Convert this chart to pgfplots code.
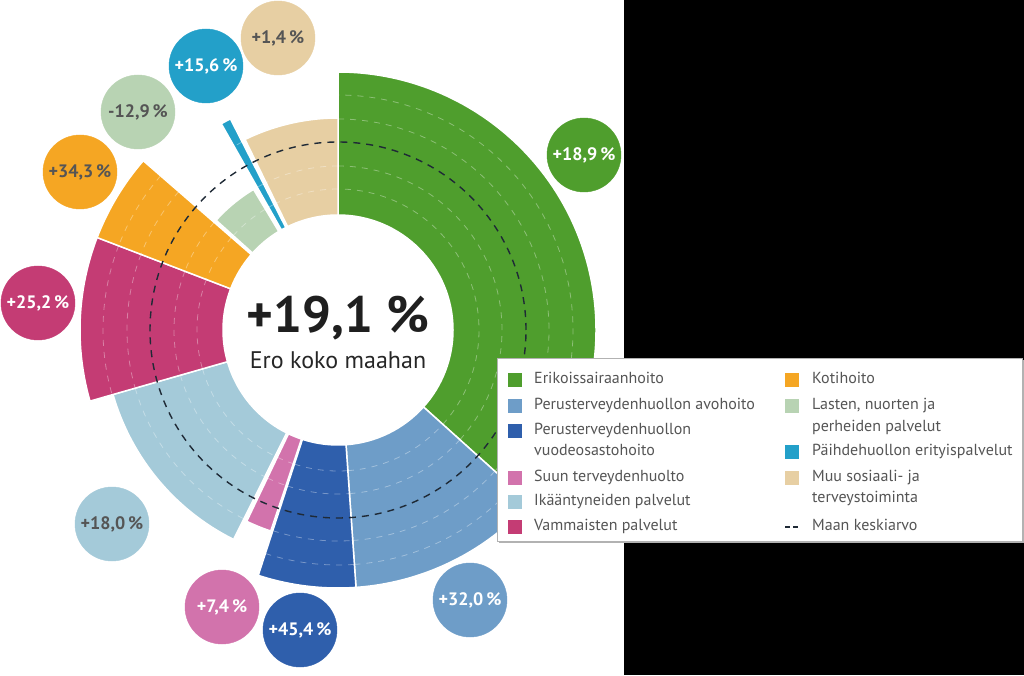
\documentclass[border=0pt]{standalone}
\usepackage{fontspec}
\setmainfont{PT Sans}
\usepackage{pgfplots}
\pgfplotsset{compat=1.18}

\definecolor{cErik}{HTML}{4F9E2D}
\definecolor{cAvo}{HTML}{6E9DC8}
\definecolor{cVuo}{HTML}{2F5FAC}
\definecolor{cSuu}{HTML}{D273AC}
\definecolor{cIka}{HTML}{A4CAD9}
\definecolor{cVam}{HTML}{C43C74}
\definecolor{cKot}{HTML}{F5A623}
\definecolor{cLas}{HTML}{B8D3B3}
\definecolor{cPai}{HTML}{23A0C9}
\definecolor{cMuu}{HTML}{E7CFA3}
\definecolor{cTxt}{HTML}{555555}
\definecolor{cDash}{HTML}{1F2A36}

% inner radius of the ring
\def\rin{115}
% annular sector, drawn at the data point; angles and radius from the table
\pgfdeclareplotmark{sector}{%
  \pgfpathmoveto{\pgfpointpolar{\aA}{\rin pt}}%
  \pgfpathlineto{\pgfpointpolar{\aA}{\rout pt}}%
  \pgfpatharc{\aA}{\aB}{\rout pt}%
  \pgfpathlineto{\pgfpointpolar{\aB}{\rin pt}}%
  \pgfpatharc{\aB}{\aA}{\rin pt}%
  \pgfpathclose
  \pgfusepathqfillstroke
  \begin{pgfscope}
    \pgfsetstrokecolor{white}\pgfsetstrokeopacity{0.35}%
    \pgfsetlinewidth{0.8pt}\pgfsetdash{{6pt}{6pt}}{0pt}%
    \foreach \g in {141,164,211,235}{%
      \ifdim\g pt<\dimexpr\rout pt-4pt\relax
        \pgfpathmoveto{\pgfpointpolar{\aA}{\g pt}}%
        \pgfpatharc{\aA}{\aB}{\g pt}%
        \pgfusepathqstroke
      \fi}%
  \end{pgfscope}
}

\pgfplotsset{
  sector/.style={only marks, mark=sector,
    visualization depends on=value \thisrow{a0}\as\aA,
    visualization depends on=value \thisrow{a1}\as\aB,
    visualization depends on=value \thisrow{r}\as\rout,
    mark options={draw=white, line width=1.5pt, solid, fill=#1}},
  bubble/.style n args={3}{only marks, mark=*, mark size=37pt,
    mark options={draw=#1, fill=#1},
    nodes near coords={#3},
    every node near coord/.append style={anchor=center, text=#2,
      font=\fontsize{18}{20}\selectfont\bfseries}},
}

\newcommand\legsq[3]{\fill[#3] (#1-7,#2-7) rectangle (#1+7,#2+7);}
\newcommand\legtxt[3]{\node[anchor=west, text=cTxt, font=\fontsize{16}{18}\selectfont,
  text height=1.6ex, text depth=0.3ex, inner sep=0pt] at (#1,#2) {#3};}

\begin{document}
\begin{tikzpicture}
\begin{axis}[
  x=1pt, y=1pt, xmin=0, xmax=1024, ymin=0, ymax=675,
  y dir=reverse, hide axis, clip=false, set layers,
]
\begin{pgfonlayer}{axis background}
\fill[white] (0,0) rectangle (1024,675);
\fill[black] (624,0) rectangle (1024,675);
\end{pgfonlayer}

% sectors: centre x y, start angle, end angle, outer radius
\addplot[sector=cErik] table[row sep=\\] {x y a0 a1 r\\ 338 330 -42 90 258\\};
\addplot[sector=cAvo] table[row sep=\\] {x y a0 a1 r\\ 338 330 -86 -42 258\\};
\addplot[sector=cVuo] table[row sep=\\] {x y a0 a1 r\\ 338 330 -108 -86 258\\};
\addplot[sector=cSuu] table[row sep=\\] {x y a0 a1 r\\ 338 330 -115.5 -108.5 212\\};
\addplot[sector=cIka] table[row sep=\\] {x y a0 a1 r\\ 338 330 -164 -116.5 234\\};
\addplot[sector=cVam] table[row sep=\\] {x y a0 a1 r\\ 338 330 159 196 258\\};
\addplot[sector=cKot] table[row sep=\\] {x y a0 a1 r\\ 338 330 139 159 258\\};
\addplot[sector=cLas] table[row sep=\\] {x y a0 a1 r\\ 338 330 121 138 164\\};
\addplot[sector=cPai] table[row sep=\\] {x y a0 a1 r\\ 338 330 117 119.5 237\\};
\addplot[sector=cMuu] table[row sep=\\] {x y a0 a1 r\\ 338 330 90 116 212\\};

% national average
\addplot[only marks, mark=o, mark size=188pt,
  mark options={draw=cDash, line width=1.4pt, dash pattern=on 7pt off 6pt}]
  table[row sep=\\] {x y\\ 338 330\\};

\node[text=black!88, font=\fontsize{51}{58}\selectfont\bfseries] at (338,318) {+19,1 \%};
\node[text=black!85, font=\fontsize{24}{28}\selectfont] at (338,360) {Ero koko maahan};

% value bubbles
\addplot[bubble={cErik}{white}{+18,9\,\%}] coordinates {(584,155)};
\addplot[bubble={cAvo}{white}{+32,0\,\%}] coordinates {(470,600)};
\addplot[bubble={cVuo}{white}{+45,4\,\%}] coordinates {(300,630)};
\addplot[bubble={cSuu}{white}{+7,4\,\%}] coordinates {(222,607)};
\addplot[bubble={cIka}{cTxt}{+18,0\,\%}] coordinates {(112,524)};
\addplot[bubble={cVam}{white}{+25,2\,\%}] coordinates {(38,303)};
\addplot[bubble={cKot}{cTxt}{+34,3\,\%}] coordinates {(80,172)};
\addplot[bubble={cLas}{cTxt}{-12,9\,\%}] coordinates {(138,112)};
\addplot[bubble={cPai}{white}{+15,6\,\%}] coordinates {(206,66)};
\addplot[bubble={cMuu}{cTxt}{+1,4\,\%}] coordinates {(278,38)};

\begin{pgfonlayer}{axis foreground}
\fill[black!30] (499,360) rectangle (1024,543);
\draw[black!30, fill=white] (497,358) rectangle (1022,541);
\legsq{515}{380}{cErik}\legtxt{534}{380}{Erikoissairaanhoito}
\legsq{515}{406}{cAvo}\legtxt{534}{406}{Perusterveydenhuollon avohoito}
\legsq{515}{431}{cVuo}\legtxt{534}{431}{Perusterveydenhuollon}
\legtxt{534}{452}{vuodeosastohoito}
\legsq{515}{478}{cSuu}\legtxt{534}{478}{Suun terveydenhuolto}
\legsq{515}{502}{cIka}\legtxt{534}{502}{Ikääntyneiden palvelut}
\legsq{515}{527}{cVam}\legtxt{534}{527}{Vammaisten palvelut}
\legsq{792}{380}{cKot}\legtxt{812}{380}{Kotihoito}
\legsq{792}{406}{cLas}\legtxt{812}{406}{Lasten, nuorten ja}
\legtxt{812}{428}{perheiden palvelut}
\legsq{792}{452}{cPai}\legtxt{812}{452}{Päihdehuollon erityispalvelut}
\legsq{792}{478}{cMuu}\legtxt{812}{478}{Muu sosiaali- ja}
\legtxt{812}{499}{terveystoiminta}
\draw[cDash, line width=1.2pt, dash pattern=on 5pt off 3pt] (785,527) -- (800,527);
\legtxt{812}{527}{Maan keskiarvo}
\end{pgfonlayer}
\end{axis}
\end{tikzpicture}
\end{document}
